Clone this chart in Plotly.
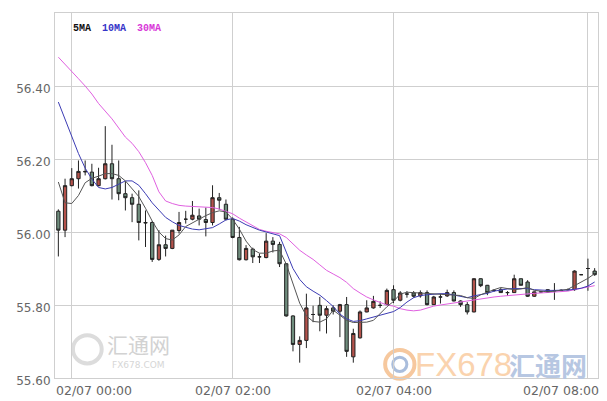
import plotly.graph_objects as go

# ---- data ----
opens = [56.057, 56.005, 56.127, 56.146, 56.166, 56.164, 56.127, 56.146, 56.187, 56.146,
         56.105, 56.094, 56.076, 56.026, 56.026, 55.925, 55.965, 55.955, 56.004, 56.035,
         56.035, 56.044, 56.034, 56.026, 56.094, 56.076, 56.035, 55.985, 55.924, 55.953,
         55.932, 55.930, 55.975, 55.966, 55.913, 55.770, 55.692, 55.703, 55.774, 55.799,
         55.772, 55.792, 55.783, 55.801, 55.658, 55.710, 55.781, 55.792, 55.799, 55.801,
         55.842, 55.813, 55.830, 55.833, 55.825, 55.834, 55.801, 55.822, 55.825, 55.834,
         55.811, 55.801, 55.781, 55.872, 55.854, 55.840, 55.842, 55.834, 55.834, 55.872,
         55.863, 55.824, 55.836, 55.842, 55.839, 55.840, 55.842, 55.842, 55.883, 55.900,
         55.893]
highs = [56.062, 56.146, 56.175, 56.196, 56.196, 56.187, 56.176, 56.290, 56.239, 56.196,
         56.139, 56.105, 56.114, 56.059, 56.030, 56.005, 55.990, 56.005, 56.055, 56.058,
         56.085, 56.064, 56.067, 56.128, 56.107, 56.089, 56.040, 56.014, 55.964, 55.957,
         55.941, 55.997, 55.986, 55.973, 55.915, 55.772, 55.714, 55.831, 55.798, 55.822,
         55.797, 55.799, 55.803, 55.822, 55.735, 55.785, 55.813, 55.825, 55.810, 55.845,
         55.854, 55.838, 55.838, 55.838, 55.840, 55.840, 55.825, 55.831, 55.842, 55.840,
         55.813, 55.808, 55.873, 55.873, 55.855, 55.843, 55.847, 55.838, 55.883, 55.872,
         55.868, 55.837, 55.838, 55.843, 55.860, 55.843, 55.845, 55.895, 55.885, 55.927,
         55.901]
lows = [55.933, 55.986, 56.125, 56.119, 56.155, 56.125, 56.125, 56.144, 56.089, 56.087,
        56.059, 56.027, 55.977, 55.959, 55.918, 55.921, 55.933, 55.953, 55.996, 56.023,
        56.032, 56.018, 55.988, 56.018, 56.061, 56.032, 55.983, 55.922, 55.922, 55.915,
        55.915, 55.928, 55.944, 55.904, 55.768, 55.673, 55.642, 55.682, 55.753, 55.728,
        55.722, 55.774, 55.712, 55.658, 55.642, 55.708, 55.780, 55.790, 55.792, 55.800,
        55.805, 55.810, 55.820, 55.820, 55.820, 55.799, 55.800, 55.804, 55.822, 55.810,
        55.795, 55.774, 55.780, 55.849, 55.827, 55.836, 55.834, 55.825, 55.834, 55.854,
        55.822, 55.822, 55.834, 55.835, 55.814, 55.838, 55.840, 55.839, 55.882, 55.839,
        55.880]
closes = [56.005, 56.127, 56.146, 56.166, 56.165, 56.127, 56.146, 56.187, 56.146, 56.105,
          56.094, 56.076, 56.026, 56.025, 55.925, 55.965, 55.955, 56.005, 56.026, 56.035,
          56.046, 56.035, 56.026, 56.094, 56.087, 56.035, 55.985, 55.924, 55.955, 55.932,
          55.932, 55.975, 55.966, 55.913, 55.770, 55.692, 55.703, 55.792, 55.774, 55.772,
          55.790, 55.783, 55.801, 55.673, 55.722, 55.781, 55.792, 55.810, 55.799, 55.840,
          55.813, 55.833, 55.830, 55.824, 55.834, 55.801, 55.822, 55.822, 55.834, 55.811,
          55.801, 55.781, 55.872, 55.853, 55.834, 55.840, 55.834, 55.834, 55.872, 55.854,
          55.824, 55.836, 55.836, 55.836, 55.839, 55.840, 55.842, 55.893, 55.883, 55.900,
          55.883]
ma5 = [56.137, 56.080, 56.078, 56.100, 56.135, 56.147, 56.153, 56.160, 56.160, 56.155,
       56.140, 56.118, 56.097, 56.065, 56.030, 56.000, 55.982, 55.978, 55.992, 56.015,
       56.026, 56.035, 56.045, 56.053, 56.058, 56.055, 56.035, 56.008, 55.975, 55.952,
       55.942, 55.942, 55.948, 55.950, 55.912, 55.860, 55.805, 55.770, 55.755, 55.753,
       55.762, 55.786, 55.773, 55.758, 55.752, 55.753, 55.753, 55.758, 55.777, 55.795,
       55.810, 55.830, 55.835, 55.834, 55.832, 55.831, 55.830, 55.830, 55.830, 55.829,
       55.826, 55.820, 55.818, 55.828, 55.836, 55.842, 55.848, 55.845, 55.842, 55.844,
       55.848, 55.840, 55.837, 55.836, 55.838, 55.840, 55.843, 55.853, 55.863, 55.873,
       55.886]
ma10 = [56.356, 56.310, 56.262, 56.215, 56.175, 56.145, 56.122, 56.118, 56.122, 56.130,
        56.140, 56.140, 56.128, 56.105, 56.080, 56.060, 56.040, 56.028, 56.018, 56.013,
        56.008, 56.006, 56.008, 56.012, 56.022, 56.033, 56.037, 56.030, 56.020, 56.012,
        56.005, 56.000, 55.996, 55.990, 55.945, 55.900, 55.870, 55.850, 55.838, 55.827,
        55.812, 55.796, 55.775, 55.762, 55.755, 55.757, 55.762, 55.767, 55.772, 55.777,
        55.782, 55.793, 55.808, 55.820, 55.826, 55.828, 55.830, 55.831, 55.831, 55.828,
        55.823, 55.820, 55.825, 55.828, 55.832, 55.838, 55.842, 55.844, 55.845, 55.845,
        55.845, 55.842, 55.840, 55.840, 55.840, 55.840, 55.841, 55.843, 55.846, 55.852,
        55.863]
ma30 = [56.479, 56.460, 56.440, 56.420, 56.400, 56.378, 56.352, 56.332, 56.310, 56.285,
        56.260, 56.243, 56.220, 56.190, 56.155, 56.110, 56.085, 56.078, 56.073, 56.071,
        56.070, 56.069, 56.068, 56.067, 56.063, 56.057, 56.050, 56.038, 56.028, 56.017,
        56.007, 56.002, 55.998, 55.995, 55.985, 55.968, 55.950, 55.937, 55.925, 55.910,
        55.895, 55.885, 55.875, 55.862, 55.845, 55.833, 55.822, 55.814, 55.807, 55.800,
        55.797, 55.790, 55.786, 55.784, 55.786, 55.792, 55.797, 55.800, 55.803, 55.806,
        55.808, 55.810, 55.815, 55.818, 55.820, 55.822, 55.824, 55.826, 55.828, 55.830,
        55.831, 55.832, 55.833, 55.834, 55.835, 55.836, 55.838, 55.842, 55.846, 55.850,
        55.853]
tick_index = [2, 26, 50, 79]
tick_labels = ["02/07 00:00", "02/07 02:00", "02/07 04:00", "02/07 08:00"]
y_ticks = [55.60, 55.80, 56.00, 56.20, 56.40]
ma_names = ["5MA", "10MA", "30MA"]
ma_colors = ["#555555", "#3c3cb4", "#e060e0"]
legend_colors = ["#111111", "#3535c8", "#d838d8"]

n = len(opens)
xs = list(range(n))

fig = go.Figure()
fig.add_trace(go.Candlestick(
    x=xs, open=opens, high=highs, low=lows, close=closes,
    increasing=dict(fillcolor="#b4524b", line=dict(color="#222222", width=1)),
    decreasing=dict(fillcolor="#6f8d7d", line=dict(color="#222222", width=1)),
    whiskerwidth=0, hoverinfo="skip", showlegend=False))

for vals, col in zip([ma30, ma10, ma5], [ma_colors[2], ma_colors[1], ma_colors[0]]):
    fig.add_trace(go.Scatter(x=xs, y=vals, mode="lines",
                             line=dict(color=col, width=1), hoverinfo="skip",
                             showlegend=False))

grid = "#cfcfcf"
fig.update_layout(
    width=607, height=401,
    margin=dict(l=55, r=9, t=13, b=23),
    paper_bgcolor="white", plot_bgcolor="white",
    showlegend=False,
    xaxis=dict(range=[-0.5, n - 0.5], tickvals=tick_index, showticklabels=False,
               showgrid=True, gridcolor=grid, gridwidth=1, showline=True,
               linecolor=grid, linewidth=1, mirror=True, zeroline=False,
               ticks="", rangeslider=dict(visible=False), automargin=False),
    yaxis=dict(range=[55.6, 56.6], tickvals=y_ticks,
               ticktext=[f"{v:.2f}" for v in y_ticks],
               tickfont=dict(family="DejaVu Sans", size=12, color="#666666"),
               showgrid=True, gridcolor=grid, gridwidth=1, showline=True,
               linecolor=grid, linewidth=1, mirror=True, zeroline=False,
               ticks="", ticklabelshift=3, ticklabelstandoff=1, automargin=False),
)

# x-axis labels (first/last kept inside the chart as in the reference)
for k, (tv, tl) in enumerate(zip(tick_index, tick_labels)):
    if k == 0:
        xa, xv, xs_ = "left", -0.5, -1
    elif k == len(tick_index) - 1:
        xa, xv, xs_ = "right", n - 0.5, 3
    else:
        xa, xv, xs_ = "center", tv, 0
    fig.add_annotation(x=xv, xref="x", y=0, yref="paper", text=tl, showarrow=False,
                       xanchor=xa, yanchor="top", xshift=xs_, yshift=-3,
                       font=dict(family="DejaVu Sans", size=12.5, color="#666666"))

# MA legend
leg_x = [0.030, 0.0834, 0.1468]
for name, col, lx in zip(ma_names, legend_colors, leg_x):
    fig.add_annotation(x=lx, xref="paper", y=0.9567, yref="paper", text=f"<b>{name}</b>",
                       showarrow=False, xanchor="left", yanchor="middle",
                       font=dict(family="Liberation Mono", size=10, color=col))

# watermarks
fig.add_shape(type="circle", xref="paper", yref="paper", x0=0.033, x1=0.086,
              y0=0.04, y1=0.117, line=dict(color="#dcdcdc", width=4), layer="below")
fig.add_annotation(x=0.1538, xref="paper", y=0.094, yref="paper", text="汇通网",
                   showarrow=False, xanchor="center", yanchor="middle",
                   font=dict(family="Noto Sans CJK SC", size=21, color="#d2d2d2"))
fig.add_annotation(x=0.1538, xref="paper", y=0.036, yref="paper", text="FX678.COM",
                   showarrow=False, xanchor="center", yanchor="middle",
                   font=dict(family="DejaVu Sans", size=9, color="#d6d6d6"))
fig.add_shape(type="circle", xref="paper", yref="paper", x0=0.608, x1=0.662,
              y0=-0.002, y1=0.077, line=dict(color="#f6c89e", width=4), layer="below")
fig.add_shape(type="circle", xref="paper", yref="paper", x0=0.622, x1=0.648,
              y0=0.018, y1=0.057, line=dict(color="#a9bddc", width=3), layer="below")
fig.add_annotation(x=0.7514, xref="paper", y=0.037, yref="paper", text="FX678",
                   showarrow=False, xanchor="center", yanchor="middle",
                   font=dict(family="Liberation Sans Narrow, Liberation Sans", size=33,
                             color="#fad3ae"))
fig.add_annotation(x=0.9088, xref="paper", y=0.037, yref="paper", text="<b>汇通网</b>",
                   showarrow=False, xanchor="center", yanchor="middle",
                   font=dict(family="Noto Sans CJK SC", size=26, color="#b7c7e2"))

fig.write_html("out.html",
               config={"displayModeBar": False},
               post_script="document.body.style.margin='0';document.body.style.overflow='hidden';")
